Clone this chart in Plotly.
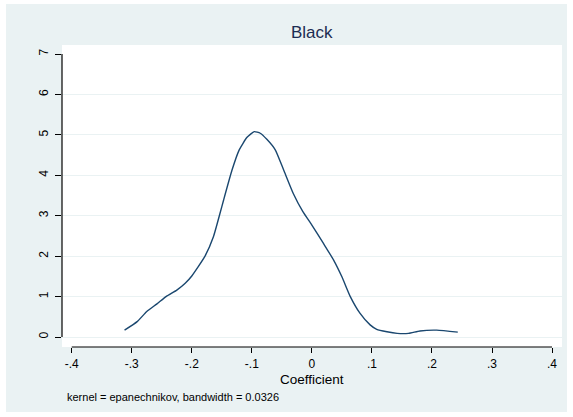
import plotly.graph_objects as go

# Kernel density estimate of coefficient
coef = [-0.312, -0.291, -0.275, -0.258, -0.243, -0.225, -0.211, -0.200, -0.178, -0.164,
        -0.153, -0.147, -0.133, -0.121, -0.108, -0.096, -0.086, -0.075, -0.061, -0.047,
        -0.031, -0.015, 0.000, 0.019, 0.036, 0.050, 0.064, 0.080, 0.097, 0.108,
        0.125, 0.142, 0.161, 0.180, 0.208, 0.243]
density = [0.17, 0.38, 0.63, 0.82, 1.00, 1.16, 1.33, 1.51, 2.00, 2.48,
           3.06, 3.39, 4.13, 4.63, 4.94, 5.08, 5.04, 4.89, 4.63, 4.13,
           3.55, 3.10, 2.77, 2.32, 1.91, 1.49, 1.00, 0.59, 0.30, 0.19,
           0.13, 0.09, 0.09, 0.15, 0.17, 0.12]

x_ticks = [-0.4, -0.3, -0.2, -0.1, 0.0, 0.1, 0.2, 0.3, 0.4]
x_labels = ["-.4", "-.3", "-.2", "-.1", "0", ".1", ".2", ".3", ".4"]
y_ticks = [0, 1, 2, 3, 4, 5, 6, 7]
y_grid = [0, 1, 2, 3, 4, 5, 6]

title_text = "Black"
x_title = "Coefficient"
note_text = "kernel = epanechnikov, bandwidth = 0.0326"

BG = "#EAF2F3"
LINE = "#1A476F"
FONT = "Liberation Sans, Arial, sans-serif"

fig = go.Figure()
fig.add_trace(go.Scatter(
    x=coef, y=density, mode="lines",
    line=dict(color=LINE, width=1.4, shape="spline", smoothing=0.5),
    xaxis="x", yaxis="y2", hoverinfo="skip", showlegend=False,
))

x_range = [-0.4162, 0.4166]
y_range = [-0.247, 7.223]

fig.update_layout(
    width=573, height=417,
    margin=dict(l=62, r=11, t=45, b=70),
    paper_bgcolor="white",
    plot_bgcolor="rgba(0,0,0,0)",
    font=dict(family=FONT, color="black"),
    showlegend=False,
    xaxis=dict(
        range=x_range, tickvals=x_ticks, ticktext=x_labels,
        ticks="outside", ticklen=5, tickwidth=1, tickcolor="black",
        showgrid=False, zeroline=False, showline=False,
        tickfont=dict(size=12, color="black"),
        ticklabelstandoff=1,
        fixedrange=True,
    ),
    yaxis=dict(
        range=y_range, tickvals=y_ticks,
        ticks="outside", ticklen=6, tickwidth=1, tickcolor="black",
        showgrid=False, zeroline=False, showline=False,
        tickangle=-90, tickfont=dict(size=12, color="black"),
        ticklabelstandoff=2,
        fixedrange=True,
    ),
    yaxis2=dict(
        range=y_range, overlaying="y", matches="y", tickvals=y_grid,
        showticklabels=False, ticks="", showgrid=True,
        gridcolor=BG, gridwidth=1, zeroline=False, showline=False,
        fixedrange=True,
    ),
)

# Backgrounds
fig.add_shape(type="rect", xref="paper", yref="paper",
              x0=-0.112, x1=1.01, y0=-0.2152, y1=1.1358,
              fillcolor=BG, line_width=0, layer="below")
fig.add_shape(type="rect", xref="paper", yref="paper",
              x0=0, x1=1, y0=0, y1=1,
              fillcolor="white", line_width=0, layer="below")

# Axis lines spanning only the labelled range
fig.add_shape(type="line", xref="x", yref="paper",
              x0=x_ticks[0], x1=x_ticks[-1], y0=0, y1=0,
              line=dict(color="black", width=1.2))
fig.add_shape(type="line", xref="paper", yref="y",
              x0=0, x1=0, y0=y_ticks[0], y1=y_ticks[-1],
              line=dict(color="black", width=1.2))

fig.add_annotation(text=title_text, xref="paper", yref="paper",
                   x=0.499, y=1.043, xanchor="center", yanchor="middle",
                   showarrow=False, font=dict(size=17, color="#1C2C52"))
fig.add_annotation(text=x_title, xref="paper", yref="paper",
                   x=0.5, y=-0.109, xanchor="center", yanchor="middle",
                   showarrow=False, font=dict(size=13.5, color="black"))
fig.add_annotation(text=note_text, xref="paper", yref="paper",
                   x=0.006, y=-0.1656, xanchor="left", yanchor="middle",
                   showarrow=False, font=dict(size=11, color="black"))

fig.write_html("out.html")
